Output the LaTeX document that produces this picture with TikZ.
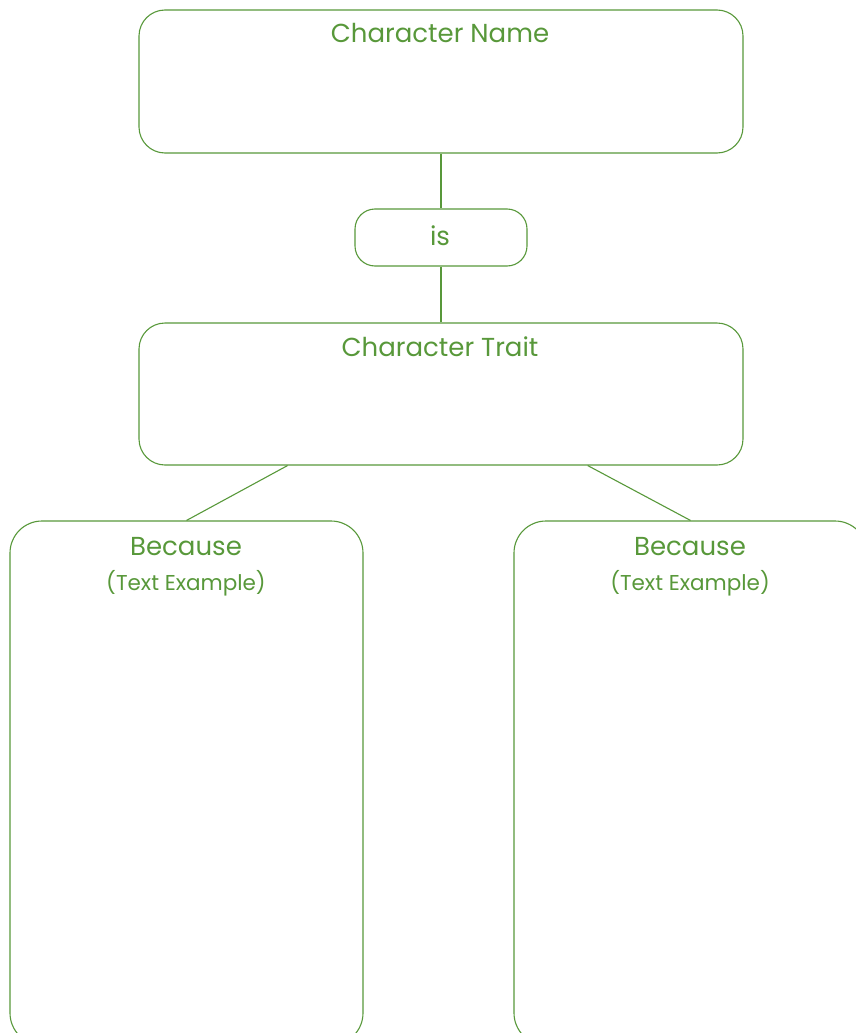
\documentclass[tikz,border=0pt]{standalone}
\usepackage{fontspec}
\setmainfont{Poppins}
\definecolor{leaf}{RGB}{88,152,58}
\tikzset{
  box/.style={rectangle, draw=leaf, line width=1.1pt, rounded corners=26pt},
  link/.style={draw=leaf, line width=1.1pt},
  title/.style={text=leaf, anchor=base, font=\fontsize{26}{30}\selectfont},
  note/.style={text=leaf, anchor=base, font=\fontsize{21.5}{24}\selectfont},
}
\begin{document}
\begin{tikzpicture}[x=1pt, y=-1pt]
  \useasboundingbox (0,0) rectangle (856,1033);
  \clip (0,0) rectangle (856,1033);

  \node (name) [box, minimum width=604pt, minimum height=143pt] at (441, 81.5) {};
  \node (is) [box, rounded corners=20pt, minimum width=172pt, minimum height=57pt] at (441, 237.5) {};
  \node (trait) [box, minimum width=604pt, minimum height=142pt] at (441, 394) {};
  \node (left) [box, rounded corners=32pt, minimum width=353pt, minimum height=524pt] at (186.5, 783) {};
  \node (right) [box, rounded corners=32pt, minimum width=353pt, minimum height=524pt] at (690.5, 783) {};

  \node (name-text) [title] at (440, 43) {Character Name};
  \node (is-text) [title] at (440, 245) {is};
  \node (trait-text) [title] at (440, 356) {Character Trait};
  \node (left-text) [title] at (186, 555) {Because};
  \node (left-note) [note] at (186, 590) {(Text Example)};
  \node (right-text) [title] at (690, 555) {Because};
  \node (right-note) [note] at (690, 590) {(Text Example)};

  \draw[link] (name) to (is);
  \draw[link] (is) to (trait);
  \draw[link] (trait.205) to (left.north);
  \draw[link] (trait.334) to (right.north);
\end{tikzpicture}
\end{document}
